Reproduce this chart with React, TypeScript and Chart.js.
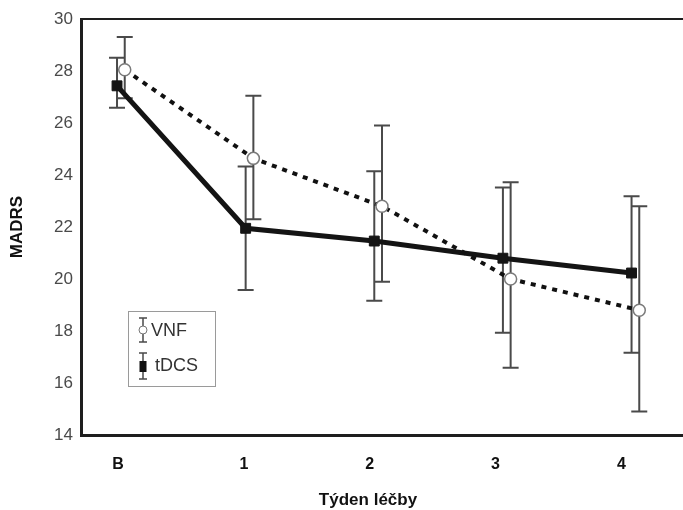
import { useEffect, useRef } from 'react';
import { Chart, registerables } from 'chart.js';

Chart.register(...registerables);

// ---- data ----
const categories = ['B', '1', '2', '3', '4'];
const seriesNames = ['VNF', 'tDCS'];

const vnfMean = [28.05, 24.64, 22.8, 20.0, 18.8];
const vnfUpper = [29.31, 27.05, 25.9, 23.72, 22.8];
const vnfLower = [26.95, 22.3, 19.89, 16.59, 14.9];

const tdcsMean = [27.43, 21.95, 21.46, 20.8, 20.23];
const tdcsUpper = [28.51, 24.33, 24.14, 23.52, 23.18];
const tdcsLower = [26.59, 19.58, 19.16, 17.93, 17.16];

const yMin = 14;
const yMax = 30;
const yStep = 2;

const xTitle = 'Týden léčby';
const yTitle = 'MADRS';

// ---- styling ----
const FONT = '"Liberation Sans", Arial, Helvetica, sans-serif';
const VNF_SHIFT = 0.06;
const AXIS_COLOR = '#1e1e1e';
const BAR_COLOR = '#4a4a4a';

export default function App() {
  const ref = useRef<HTMLCanvasElement>(null);

  useEffect(() => {
    document.body.style.margin = '0';
    const canvas = ref.current;
    if (!canvas) return;

    const errors = [
      { upper: vnfUpper, lower: vnfLower },
      { upper: tdcsUpper, lower: tdcsLower },
    ];

    const errorBars = {
      id: 'errorBars',
      beforeDatasetsDraw(chart: any) {
        const ctx = chart.ctx;
        const yScale = chart.scales.y;
        ctx.save();
        ctx.strokeStyle = BAR_COLOR;
        ctx.lineWidth = 2;
        ctx.lineCap = 'butt';
        errors.forEach((err, di) => {
          const meta = chart.getDatasetMeta(di);
          meta.data.forEach((el: any, i: number) => {
            const x = el.x;
            const yU = yScale.getPixelForValue(err.upper[i]);
            const yL = yScale.getPixelForValue(err.lower[i]);
            const hw = 8;
            ctx.beginPath();
            ctx.moveTo(x, yU);
            ctx.lineTo(x, yL);
            ctx.moveTo(x - hw, yU);
            ctx.lineTo(x + hw, yU);
            ctx.moveTo(x - hw, yL);
            ctx.lineTo(x + hw, yL);
            ctx.stroke();
          });
        });
        ctx.restore();
      },
    };

    const decor = {
      id: 'decor',
      afterDraw(chart: any) {
        const ctx = chart.ctx;
        const a = chart.chartArea;
        ctx.save();
        // top frame line
        ctx.strokeStyle = AXIS_COLOR;
        ctx.lineWidth = 2;
        ctx.beginPath();
        ctx.moveTo(a.left, a.top);
        ctx.lineTo(a.right, a.top);
        ctx.stroke();

        // axis titles
        ctx.fillStyle = '#111';
        ctx.font = `bold 17px ${FONT}`;
        ctx.textAlign = 'center';
        ctx.textBaseline = 'middle';
        ctx.fillText(xTitle, 368, 500);
        ctx.save();
        ctx.translate(17, (a.top + a.bottom) / 2);
        ctx.rotate(-Math.PI / 2);
        ctx.fillText(yTitle, 0, 0);
        ctx.restore();

        // legend
        const bx = a.left + 47;
        const by = a.top + 292;
        ctx.strokeStyle = '#9a9a9a';
        ctx.lineWidth = 1;
        ctx.strokeRect(bx + 0.5, by + 0.5, 87, 75);
        const sx = bx + 15;
        const drawBar = (y1: number, y2: number) => {
          ctx.strokeStyle = BAR_COLOR;
          ctx.lineWidth = 1.5;
          ctx.beginPath();
          ctx.moveTo(sx, y1);
          ctx.lineTo(sx, y2);
          ctx.moveTo(sx - 4, y1);
          ctx.lineTo(sx + 4, y1);
          ctx.moveTo(sx - 4, y2);
          ctx.lineTo(sx + 4, y2);
          ctx.stroke();
        };
        // VNF
        drawBar(by + 7, by + 31);
        ctx.beginPath();
        ctx.arc(sx, by + 19, 4, 0, Math.PI * 2);
        ctx.fillStyle = '#fff';
        ctx.fill();
        ctx.strokeStyle = '#777';
        ctx.lineWidth = 1;
        ctx.stroke();
        // tDCS
        drawBar(by + 42, by + 68);
        ctx.fillStyle = '#111';
        ctx.fillRect(sx - 3.5, by + 50, 7, 11);

        ctx.fillStyle = '#333';
        ctx.font = `18px ${FONT}`;
        ctx.textAlign = 'left';
        ctx.textBaseline = 'middle';
        ctx.fillText(seriesNames[0], bx + 23, by + 20);
        ctx.fillText(seriesNames[1], bx + 27, by + 55);
        ctx.restore();
      },
    };

    const chart = new Chart(canvas, {
      type: 'line',
      data: {
        datasets: [
          {
            label: seriesNames[0],
            data: vnfMean.map((v, i) => ({ x: i + VNF_SHIFT, y: v })),
            borderColor: '#111',
            borderWidth: 4,
            borderDash: [5, 6],
            borderCapStyle: 'butt',
            pointStyle: 'circle',
            pointRadius: 6,
            pointBackgroundColor: '#ffffff',
            pointBorderColor: '#7a7a7a',
            pointBorderWidth: 1.5,
            tension: 0,
            fill: false,
          },
          {
            label: seriesNames[1],
            data: tdcsMean.map((v, i) => ({ x: i, y: v })),
            borderColor: '#141414',
            borderWidth: 5,
            pointStyle: 'rect',
            pointRadius: 7,
            pointBackgroundColor: '#141414',
            pointBorderColor: '#141414',
            pointBorderWidth: 1,
            tension: 0,
            fill: false,
          },
        ],
      },
      options: {
        responsive: false,
        animation: false,
        events: [],
        layout: { autoPadding: false, padding: { top: 19, right: 0, left: 0, bottom: 0 } },
        plugins: {
          legend: { display: false },
          tooltip: { enabled: false },
          title: { display: false },
        },
        scales: {
          x: {
            type: 'linear',
            display: false,
            min: -0.28,
            max: 4.4,
          },
          xl: {
            type: 'linear',
            position: 'bottom',
            min: -0.294,
            max: 4.49,
            afterBuildTicks: (s: any) => {
              s.ticks = categories.map((_, i) => ({ value: i }));
            },
            afterFit: (s: any) => {
              s.height = 75;
              s.paddingLeft = 0;
              s.paddingRight = 0;
            },
            ticks: {
              callback: (v: any) => categories[v as number] ?? '',
              font: { family: FONT, size: 16, weight: 'bold' },
              color: '#111',
              padding: 20,
              autoSkip: false,
              maxRotation: 0,
            },
            grid: { display: false, drawTicks: false },
            border: { display: true, width: 3, color: AXIS_COLOR },
          },
          y: {
            type: 'linear',
            min: yMin,
            max: yMax,
            afterFit: (s: any) => {
              s.width = 81;
            },
            ticks: {
              stepSize: yStep,
              font: { family: FONT, size: 17 },
              color: '#4a4a4a',
              padding: 8,
            },
            grid: { display: false, drawTicks: false },
            border: { display: true, width: 3, color: AXIS_COLOR },
          },
        },
      },
      plugins: [errorBars, decor],
    } as any);

    return () => chart.destroy();
  }, []);

  return (
    <div style={{ position: 'absolute', left: 0, top: 0, width: 683, height: 510, background: '#fff' }}>
      <canvas ref={ref} width={683} height={510} style={{ display: 'block' }} />
    </div>
  );
}
